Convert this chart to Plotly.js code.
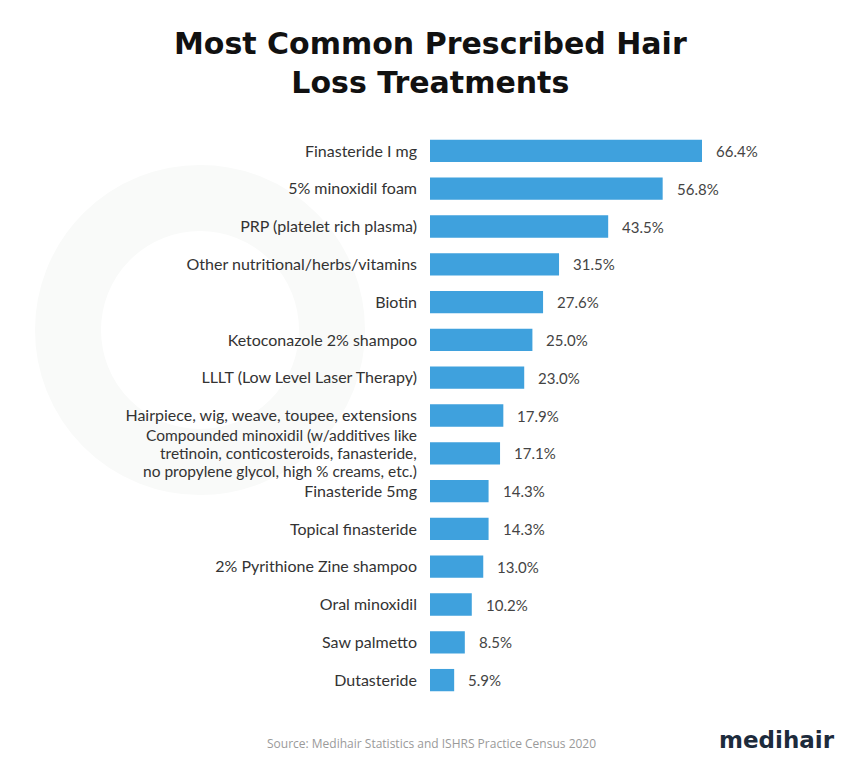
<!DOCTYPE html>
<html>
<head>
<meta charset="utf-8">
<script src="https://cdn.plot.ly/plotly-3.0.1.min.js"></script>
<style>html,body{margin:0;padding:0;background:#fff;}#chart{width:860px;height:761px;}</style>
</head>
<body>
<div id="chart"></div>
<script>
const categories = [
  "Finasteride I mg",
  "5% minoxidil foam",
  "PRP (platelet rich plasma)",
  "Other nutritional/herbs/vitamins",
  "Biotin",
  "Ketoconazole 2% shampoo",
  "LLLT (Low Level Laser Therapy)",
  "Hairpiece, wig, weave, toupee, extensions",
  "Compounded minoxidil (w/additives like<br>tretinoin, conticosteroids, fanasteride,<br>no propylene glycol, high % creams, etc.)",
  "Finasteride 5mg",
  "Topical finasteride",
  "2% Pyrithione Zine shampoo",
  "Oral minoxidil",
  "Saw palmetto",
  "Dutasteride"
];
const values = [66.4, 56.8, 43.5, 31.5, 27.6, 25.0, 23.0, 17.9, 17.1, 14.3, 14.3, 13.0, 10.2, 8.5, 5.9];
const valueLabels = values.map(v => v.toFixed(1) + "%");
const titleText = "<b>Most Common Prescribed Hair<br>Loss Treatments</b>";
const sourceText = "Source: Medihair Statistics and ISHRS Practice Census 2020";
const brandText = "<b>medihair</b>";

const W = 860, H = 761;
const mL = 430, mR = 80, mT = 132, mB = 62;
const pw = W - mL - mR, ph = H - mT - mB;
function px(x){ return (x - mL) / pw; }
function py(y){ return 1 - (y - mT) / ph; }

const labelFont = {family: "Lato, 'Open Sans', sans-serif", size: 16, color: "#333"};
const multiFont = {family: "Lato, 'Open Sans', sans-serif", size: 15.5, color: "#333"};

const trace = {
  type: "bar",
  orientation: "h",
  x: values,
  y: categories,
  marker: {color: "#3fa1dd"},
  hoverinfo: "skip"
};

// single-line labels as ticks; multi-line labels drawn line by line with tighter spacing
const tickText = categories.map(c => c.includes("<br>") ? "" : c);

const annotations = values.map((v, i) => ({
  x: v, y: categories[i], xref: "x", yref: "y",
  text: valueLabels[i], showarrow: false,
  xanchor: "left", xshift: 12,
  font: {family: "Lato, 'Open Sans', sans-serif", size: 15, color: "#444"}
}));
categories.forEach((c, i) => {
  if (!c.includes("<br>")) return;
  const lines = c.split("<br>");
  const mid = (lines.length - 1) / 2;
  lines.forEach((ln, j) => {
    annotations.push({
      xref: "paper", yref: "y", x: 0, y: c,
      text: ln, showarrow: false, xanchor: "right", yanchor: "middle",
      xshift: -12, yshift: (mid - j) * 18, borderpad: 0,
      font: multiFont
    });
  });
});
annotations.push({
  xref: "paper", yref: "paper", x: px(430), y: py(63),
  text: titleText, showarrow: false, xanchor: "center", yanchor: "middle",
  font: {family: "'DejaVu Sans', sans-serif", size: 30, color: "#111"}
});
annotations.push({
  xref: "paper", yref: "paper", x: px(431), y: py(743),
  text: sourceText,
  showarrow: false, xanchor: "center", yanchor: "middle",
  font: {family: "'Open Sans', sans-serif", size: 12, color: "#9a9a9a"}
});
annotations.push({
  xref: "paper", yref: "paper", x: px(837), y: py(740),
  text: brandText,
  showarrow: false, xanchor: "right", yanchor: "middle",
  font: {family: "'DejaVu Sans', sans-serif", size: 23, color: "#1d2b3c"}
});

const layout = {
  width: W, height: H,
  paper_bgcolor: "#ffffff", plot_bgcolor: "rgba(0,0,0,0)",
  margin: {l: mL, r: mR, t: mT, b: mB, pad: 0},
  xaxis: {range: [0, pw / (272/66.4)], visible: false, fixedrange: true},
  yaxis: {
    type: "category", autorange: "reversed",
    tickmode: "array", tickvals: categories, ticktext: tickText,
    showgrid: false, zeroline: false, showline: false,
    ticks: "", ticklabelstandoff: 12,
    tickfont: labelFont
  },
  bargap: 0.41,
  showlegend: false,
  shapes: [{
    type: "circle", xref: "paper", yref: "paper", layer: "below",
    x0: px(68), x1: px(332), y0: py(462), y1: py(198),
    line: {color: "#f9faf9", width: 66}, fillcolor: "rgba(0,0,0,0)"
  }],
  annotations: annotations
};

Plotly.newPlot("chart", [trace], layout, {displayModeBar: false, staticPlot: true});
</script>
</body>
</html>
